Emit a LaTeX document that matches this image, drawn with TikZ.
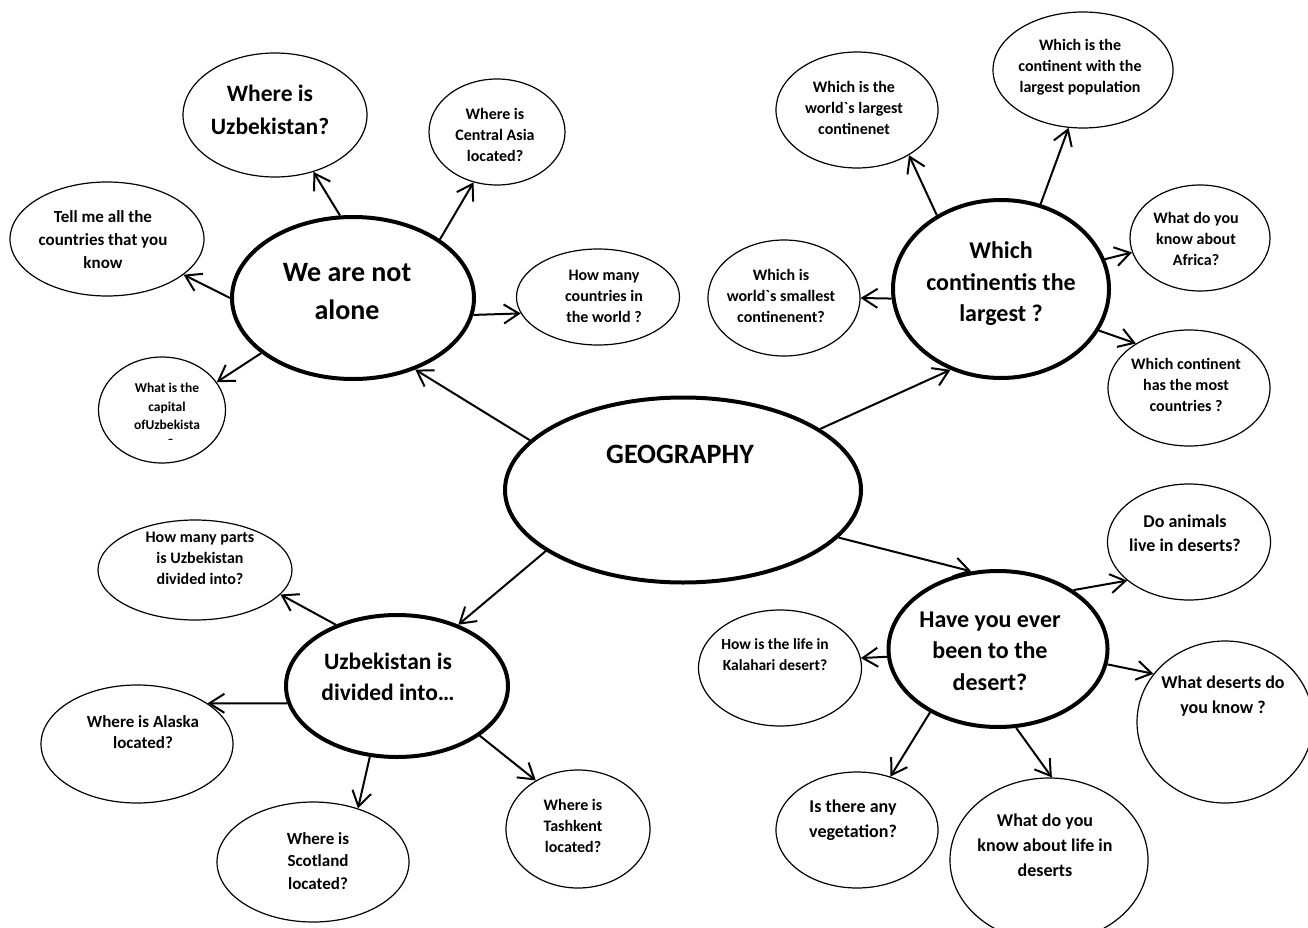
\documentclass[tikz,border=0pt]{standalone}
\usepackage{fontspec}
\setmainfont{Carlito}
\usetikzlibrary{shapes.geometric,arrows.meta}

\newcommand{\fsz}[2]{\fontsize{#1}{#2}\selectfont}

\tikzstyle{bubble}=[ellipse,draw,line width=1.2pt,inner sep=0pt]
\tikzstyle{mainbubble}=[bubble,line width=4pt]
\tikzstyle{qtext}=[align=center,inner sep=0pt,font=\bfseries\fsz{16}{21}]
\tikzstyle{qmid}=[qtext,font=\bfseries\fsz{18}{24.5}]
\tikzstyle{qbig}=[qtext,font=\bfseries\fsz{24}{31.5}]
\tikzstyle{qhuge}=[qtext,font=\bfseries\fsz{28}{38}]
\tikzstyle{link}=[-{Straight Barb[length=15pt,width=19pt]},line width=2pt]

\begin{document}
\begin{tikzpicture}[x=1pt,y=-1pt]
\clip (0,0) rectangle (1308,928);
% centre
\node[mainbubble,minimum width=356pt,minimum height=185pt] (geo) at (683,490) {};
\node[qhuge] (geo-t) at (680,454) {GEOGRAPHY};

% upper left group
\node[mainbubble,minimum width=242pt,minimum height=162pt] (alone) at (353,298) {};
\node[qhuge] (alone-t) at (347,292) {We are not\\alone};
\node[bubble,minimum width=184pt,minimum height=124pt] (uzb) at (275,115) {};
\node[qtext,font=\bfseries\fsz{23.5}{33}] (uzb-t) at (270,110) {Where is\\Uzbekistan?};
\node[bubble,minimum width=136pt,minimum height=106pt] (casia) at (497,132) {};
\node[qtext] (casia-t) at (495,135) {Where is\\Central Asia\\located?};
\node[bubble,minimum width=194pt,minimum height=114pt] (tellme) at (107,239) {};
\node[qtext,font=\bfseries\fsz{17}{23}] (tellme-t) at (103,240) {Tell me all the\\countries that you\\know};
\node[bubble,minimum width=163pt,minimum height=96pt] (howmany) at (598,297) {};
\node[qtext] (howmany-t) at (604,296) {How many\\countries in\\the world ?};
\node[bubble,minimum width=127pt,minimum height=106pt] (capital) at (162,410) {};
\begin{scope}
\clip (90,350) rectangle (240,439);
\node[qtext,font=\bfseries\fsz{13.5}{18.5}] (capital-t) at (167,416) {What is the\\capital\\ofUzbekista\\n?};
\end{scope}

% upper right group
\node[mainbubble,minimum width=216pt,minimum height=178pt] (largest) at (1001,289) {};
\node[qbig] (largest-t) at (1001,284) {Which\\continentis the\\largest ?};
\node[bubble,minimum width=162pt,minimum height=116pt] (biggest) at (857,110) {};
\node[qtext] (biggest-t) at (854,108) {Which is the\\world\textasciigrave s largest\\continenet};
\node[bubble,minimum width=180pt,minimum height=116pt] (popul) at (1083,70) {};
\node[qtext] (popul-t) at (1080,67) {Which is the\\continent with the\\largest population};
\node[bubble,minimum width=140pt,minimum height=106pt] (africa) at (1200,238) {};
\node[qtext] (africa-t) at (1196,239) {What do you\\know about\\Africa?};
\node[bubble,minimum width=152pt,minimum height=116pt] (smallest) at (784,298) {};
\node[qtext] (smallest-t) at (781,296) {Which is\\world\textasciigrave s smallest\\continenent?};
\node[bubble,minimum width=162pt,minimum height=116pt] (hasmost) at (1189,388) {};
\node[qtext] (hasmost-t) at (1186,385) {Which continent\\has the most\\countries ?};

% lower left group
\node[mainbubble,minimum width=222pt,minimum height=142pt] (divided) at (397,686) {};
\node[qtext,font=\bfseries\fsz{23.5}{31}] (divided-t) at (388,677) {Uzbekistan is\\divided into…};
\node[bubble,minimum width=194pt,minimum height=100pt] (parts) at (195,570) {};
\node[qtext] (parts-t) at (200,558) {How many parts\\is Uzbekistan\\divided into?};
\node[bubble,minimum width=192pt,minimum height=118pt] (alaska) at (137,744) {};
\node[qtext,font=\bfseries\fsz{17}{21}] (alaska-t) at (143,732) {Where is Alaska\\located?};
\node[bubble,minimum width=192pt,minimum height=120pt] (scotland) at (313,862) {};
\node[qtext,font=\bfseries\fsz{17}{22.5}] (scotland-t) at (318,861) {Where is\\Scotland\\located?};
\node[bubble,minimum width=144pt,minimum height=118pt] (tashkent) at (578,829) {};
\node[qtext] (tashkent-t) at (573,826) {Where is\\Tashkent\\located?};

% lower right group
\node[mainbubble,minimum width=219pt,minimum height=156pt] (desert) at (998,649) {};
\node[qbig] (desert-t) at (990,651) {Have you ever\\been to the\\desert?};
\node[bubble,minimum width=163pt,minimum height=116pt] (kalahari) at (780,668) {};
\node[qtext,font=\bfseries\fsz{15.5}{21}] (kalahari-t) at (775,655) {How is the life in\\Kalahari desert?};
\node[bubble,minimum width=163pt,minimum height=116pt] (animals) at (1189,542) {};
\node[qmid] (animals-t) at (1185,533) {Do animals\\live in deserts?};
\node[bubble,minimum width=176pt,minimum height=162pt] (deserts) at (1225,722) {};
\node[qmid] (deserts-t) at (1223,696) {What deserts do\\you know ?};
\node[bubble,minimum width=162pt,minimum height=116pt] (veget) at (857,830) {};
\node[qmid,font=\bfseries\fsz{18}{25}] (veget-t) at (853,820) {Is there any\\vegetation?};
\node[bubble,minimum width=198pt,minimum height=164pt] (lifed) at (1049,860) {};
\node[qmid,font=\bfseries\fsz{18}{25}] (lifed-t) at (1045,845) {What do you\\know about life in\\deserts};

% connectors
\draw[link] (geo.162) -- (alone.311);
\draw[link] (geo.24) -- (largest.238);
\draw[link] (geo.204) -- (divided.45);
\draw[link] (geo.343) -- (desert.109);

\draw[link] (alone.99) -- (uzb.304);
\draw[link] (alone.34) -- (casia.245);
\draw[link] (alone.180) -- (tellme.335);
\draw[link] (alone.352) -- (howmany.192);
\draw[link] (alone.211) -- (capital.27);

\draw[link] (largest.131) -- (biggest.319);
\draw[link] (largest.65) -- (popul.256);
\draw[link] (largest.16) -- (africa.192);
\draw[link] (largest.185) -- (smallest.0);
\draw[link] (largest.337) -- (hasmost.140);

\draw[link] (divided.135) -- (parts.344);
\draw[link] (divided.189) -- (alaska.30);
\draw[link] (divided.249) -- (scotland.50);
\draw[link] (divided.329) -- (tashkent.131);

\draw[link] (desert.38) -- (animals.212);
\draw[link] (desert.184) -- (kalahari.7);
\draw[link] (desert.352) -- (deserts.146);
\draw[link] (desert.223) -- (veget.58);
\draw[link] (desert.283) -- (lifed.88);
\end{tikzpicture}
\end{document}
